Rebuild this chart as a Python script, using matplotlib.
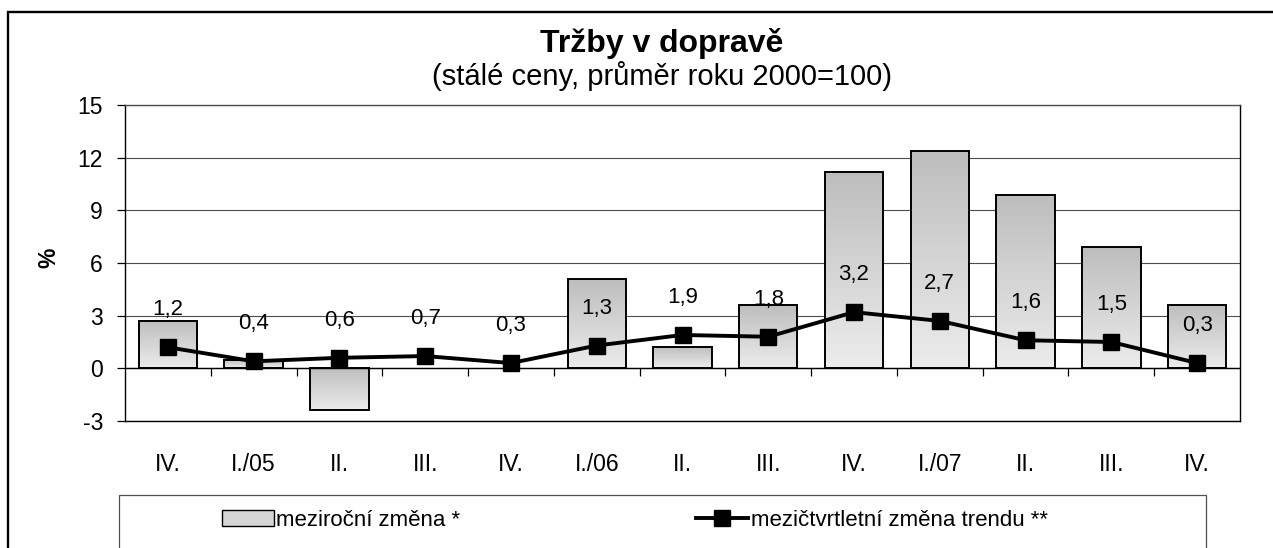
import numpy as np
import matplotlib
matplotlib.use('Agg')
import matplotlib.pyplot as plt
from matplotlib.patches import Rectangle, Patch
from matplotlib.lines import Line2D
from matplotlib.colors import LinearSegmentedColormap

# ---- data ----
categories = ["IV.", "I./05", "II.", "III.", "IV.", "I./06", "II.", "III.",
              "IV.", "I./07", "II.", "III.", "IV."]
yoy_change = [2.7, 0.5, -2.4, 0.0, 0.0, 5.1, 1.2, 3.6, 11.2, 12.4, 9.9, 6.9, 3.6]
qoq_trend = [1.2, 0.4, 0.6, 0.7, 0.3, 1.3, 1.9, 1.8, 3.2, 2.7, 1.6, 1.5, 0.3]
yticks = [-3, 0, 3, 6, 9, 12, 15]
title = "Tržby v dopravě"
subtitle = "(stálé ceny, průměr roku 2000=100)"
ylabel = "%"
legend_labels = ["meziroční změna *", "mezičtvrtletní změna trendu **"]

# ---- figure ----
W, H = 1273, 548
plt.rcParams['font.family'] = ['Liberation Sans', 'DejaVu Sans']
plt.rcParams['axes.unicode_minus'] = False
fig = plt.figure(figsize=(W / 100, H / 100), dpi=100)
fig.patch.set_facecolor('white')

ax = fig.add_axes([125 / W, 1 - 421 / H, (1240 - 125) / W, (421 - 105) / H])
x = np.arange(len(categories))

bars = ax.bar(x, yoy_change, width=0.68, facecolor='none', edgecolor='black',
              linewidth=1.4, zorder=3)
cmap = LinearSegmentedColormap.from_list('g', ['#bdbdbd', '#ececec'])
grad = np.linspace(0, 1, 256).reshape(-1, 1)
for b in bars:
    h = b.get_height()
    if h == 0:
        b.set_visible(False)
        continue
    x0, y0, w = b.get_x(), b.get_y(), b.get_width()
    lo, hi = min(y0, y0 + h), max(y0, y0 + h)
    ax.imshow(grad, cmap=cmap, extent=[x0, x0 + w, lo, hi], origin='upper',
              aspect='auto', zorder=2, interpolation='bilinear')

ax.set_xlim(-0.5, len(categories) - 0.5)
ax.set_ylim(min(yticks), max(yticks))
ax.set_yticks(yticks)
ax.yaxis.grid(True, color='#4d4d4d', linewidth=0.8)
ax.set_axisbelow(True)
ax.axhline(0, color='black', linewidth=1.0, zorder=2.5)
ax.vlines(x[:-1] + 0.5, -0.45, 0, color='black', linewidth=0.9, zorder=2.5)

ax.set_xticks(x)
ax.set_xticklabels(categories)
ax.tick_params(axis='x', length=0, pad=23, labelsize=16.5)
ax.tick_params(axis='y', length=5.8, width=0.9, pad=10, labelsize=16.5)
for s in ax.spines.values():
    s.set_linewidth(1.0)
    s.set_color('black')
ax.spines['top'].set_color('#4d4d4d')

ax.plot(x, qoq_trend, color='black', linewidth=2.8, marker='s', markersize=12,
        zorder=4)
for xi, yi in zip(x, qoq_trend):
    ax.annotate(f"{yi:.1f}".replace('.', ','), (xi, yi), xytext=(0, 27),
                textcoords='offset points', ha='center', va='center',
                fontsize=16, zorder=5)

# ---- texts ----
fig.text(662 / W, 1 - 51.7 / H, title, ha='center', va='baseline',
         fontsize=23, fontweight='bold')
fig.text(662 / W, 1 - 85 / H, subtitle, ha='center', va='baseline', fontsize=21)
fig.text(49 / W, 1 - 258 / H, ylabel, rotation=90, ha='center', va='center',
         fontsize=16.5, fontweight='bold')

# ---- frames ----
fig.add_artist(Rectangle((8 / W, -0.2), (1320 - 8) / W, (1 - 12 / H) + 0.2,
                         transform=fig.transFigure, fill=False,
                         edgecolor='black', linewidth=1.7, clip_on=False))
fig.add_artist(Rectangle((119 / W, -0.2), (1206 - 119) / W, (1 - 495 / H) + 0.2,
                         transform=fig.transFigure, fill=False,
                         edgecolor='#505050', linewidth=0.9, clip_on=False))

handles = [Patch(facecolor='#d6d6d6', edgecolor='black', linewidth=1.0),
           Line2D([], [], color='black', linewidth=2.8, marker='s', markersize=12)]
fig.legend(handles, legend_labels, loc='center left',
           bbox_to_anchor=(222 / W, 1 - 520 / H), ncol=2, frameon=False,
           fontsize=16, handlelength=2.35, handletextpad=0.1,
           columnspacing=10.6, borderpad=0, borderaxespad=0)

fig.savefig('out.png', dpi=100)
